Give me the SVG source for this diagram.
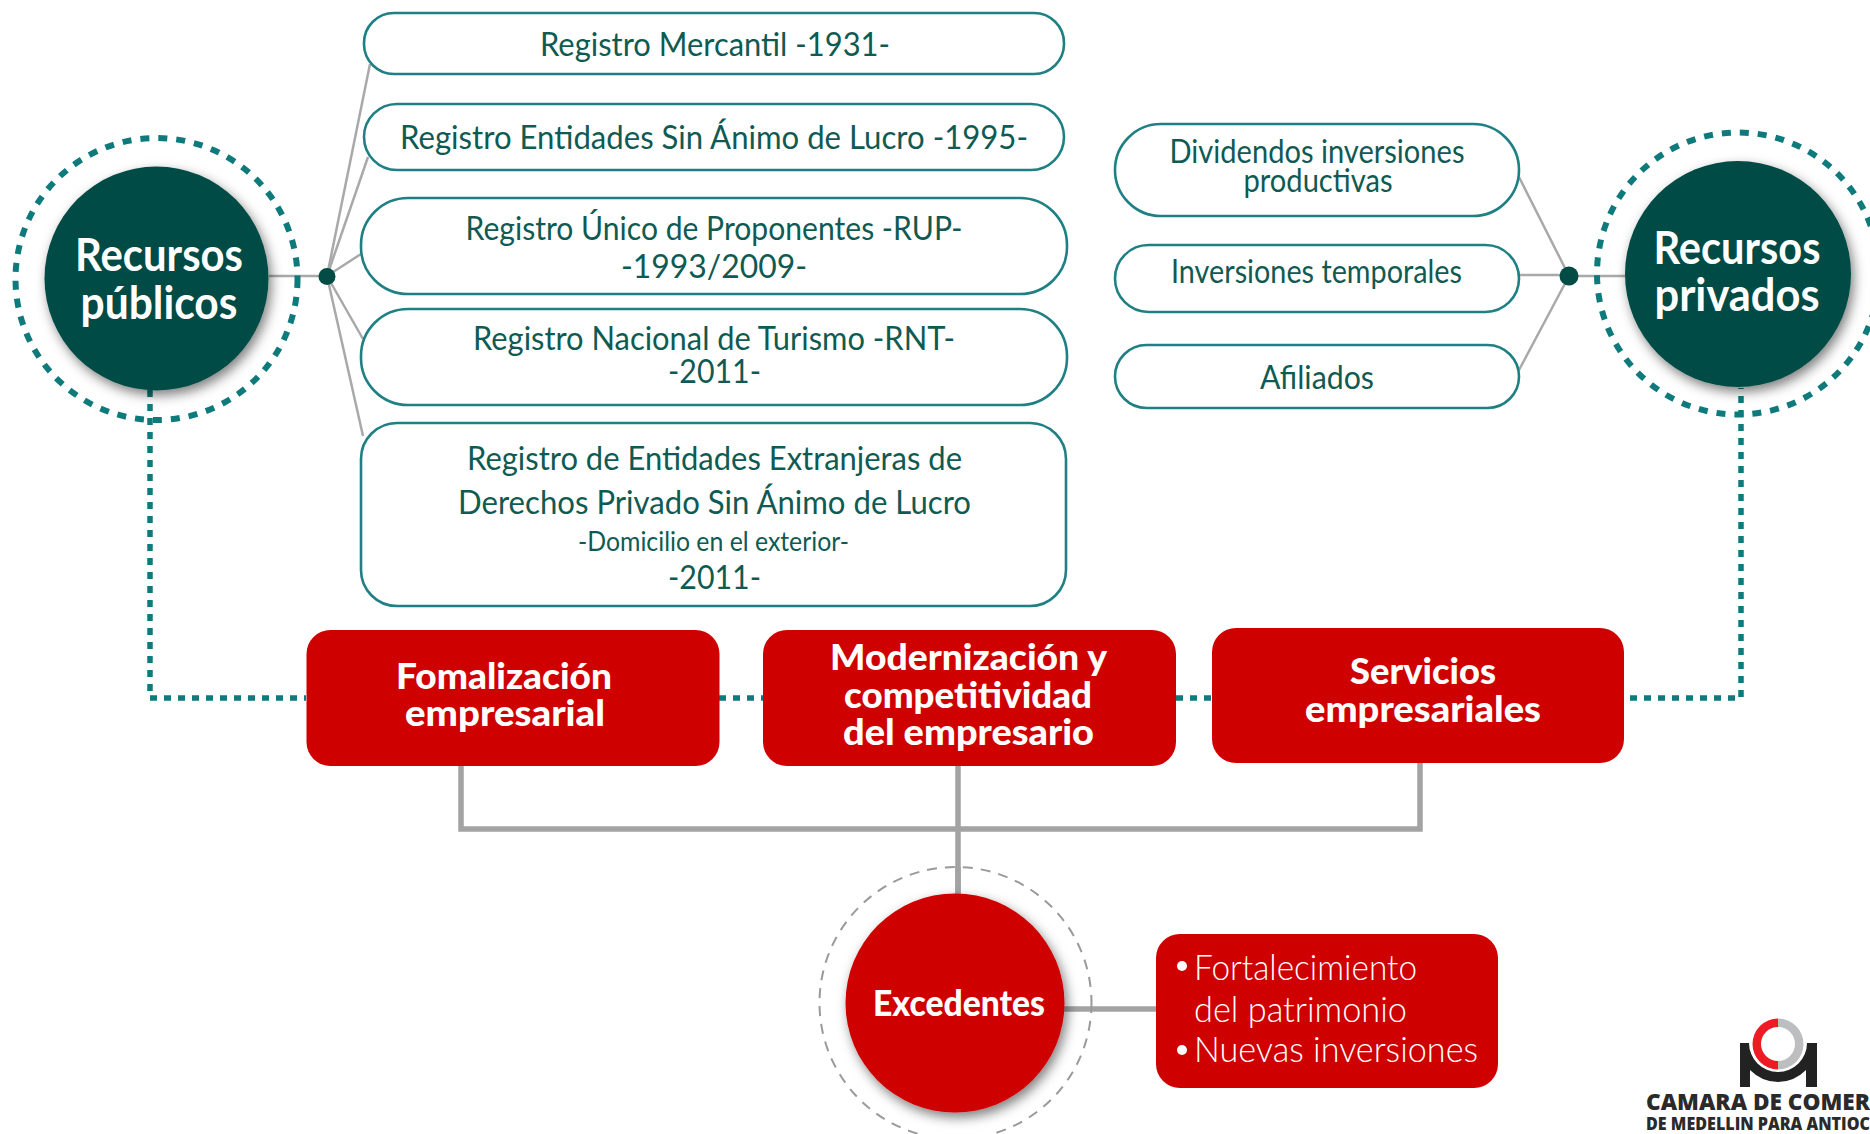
<svg xmlns="http://www.w3.org/2000/svg" width="1870" height="1134" viewBox="0 0 1870 1134">
<defs>
<filter id="shadow" x="-20%" y="-20%" width="140%" height="140%"><feDropShadow dx="3" dy="5" stdDeviation="6" flood-color="#000" flood-opacity="0.5"/></filter>
</defs>
<style>
text{font-family:"Lato","Noto Sans","Liberation Sans",sans-serif;text-anchor:middle}
.pill{fill:#fff;stroke:#1f8084;stroke-width:2.6}
.t{fill:#0f5a52;font-size:32px;font-weight:400}
.s{fill:#0f5a52;font-size:26px;font-weight:400}
.h{fill:#fff;font-size:46px;font-weight:700}
.r{fill:#fff;font-size:36px;font-weight:900}
.e{fill:#fff;font-size:36px;font-weight:300}
.red{fill:#cf0000}
.green{fill:#034c45}
.thin{fill:none;stroke:#a9a9a9;stroke-width:2.5}
.thick{fill:none;stroke:#a3a3a3;stroke-width:5.5}
.dot{fill:none;stroke:#0f7a7c;stroke-width:5.5;stroke-dasharray:7 7}
.ring{fill:none;stroke:#0f7a7c;stroke-width:6;stroke-dasharray:9 9}
.dash{fill:none;stroke:#9a9a9a;stroke-width:2;stroke-dasharray:10 8}
.logo1{fill:#2a2a2a;font-family:"Open Sans","Liberation Sans",sans-serif;font-weight:800;text-anchor:start}
</style>
<rect width="1870" height="1134" fill="#fff"/>
<g id="connectors">
<path class="thin" d="M269 276H327M327 276L370 64M327 276L368 157M327 276L361 254M327 276L363 339M327 276L363 436"/>
<path class="thin" d="M1519 177L1569 276M1519 275H1569M1519 370L1569 276M1569 276H1625"/>
<path class="dot" d="M150 390V698H306M719 698H763M1176 698H1212M1630 698H1741V388"/>
<path class="thick" d="M461 766V829H1420V763M958 766V895M1064 1009H1156"/>
</g>
<g id="node-recursos-publicos">
<circle class="ring" cx="156.500" cy="279" r="141"/>
<circle class="green" cx="156.500" cy="278.500" r="112" filter="url(#shadow)"/>
<text class="h" x="159" y="271" textLength="168" lengthAdjust="spacingAndGlyphs">Recursos</text>
<text class="h" x="159" y="319" textLength="157" lengthAdjust="spacingAndGlyphs">públicos</text>
<circle class="green" cx="327" cy="276.500" r="8.500"/>
</g>
<g id="node-recursos-privados">
<circle class="ring" cx="1738" cy="273.500" r="141"/>
<circle class="green" cx="1738" cy="274" r="113" filter="url(#shadow)"/>
<text class="h" x="1737" y="264" textLength="167" lengthAdjust="spacingAndGlyphs">Recursos</text>
<text class="h" x="1737" y="311" textLength="165" lengthAdjust="spacingAndGlyphs">privados</text>
<circle class="green" cx="1569" cy="276" r="9.500"/>
</g>
<g id="node-mercantil">
<rect class="pill" x="364" y="13" width="700" height="61" rx="30" ry="30"/>
<text class="t" x="715" y="56" textLength="350" lengthAdjust="spacingAndGlyphs">Registro Mercantil -1931-</text>
</g>
<g id="node-entidades">
<rect class="pill" x="364" y="104" width="700" height="66" rx="33" ry="33"/>
<text class="t" x="714" y="149" textLength="628" lengthAdjust="spacingAndGlyphs">Registro Entidades Sin Ánimo de Lucro -1995-</text>
</g>
<g id="node-rup">
<rect class="pill" x="361" y="198" width="706" height="96" rx="47" ry="47"/>
<text class="t" x="714" y="240" textLength="497" lengthAdjust="spacingAndGlyphs">Registro Único de Proponentes -RUP-</text>
<text class="t" x="714" y="278" textLength="186" lengthAdjust="spacingAndGlyphs">-1993/2009-</text>
</g>
<g id="node-rnt">
<rect class="pill" x="361" y="309" width="706" height="96" rx="47" ry="47"/>
<text class="t" x="714" y="350" textLength="482" lengthAdjust="spacingAndGlyphs">Registro Nacional de Turismo -RNT-</text>
<text class="t" x="714.500" y="383" textLength="93" lengthAdjust="spacingAndGlyphs">-2011-</text>
</g>
<g id="node-extranjeras">
<rect class="pill" x="361" y="423" width="705" height="183" rx="36" ry="36"/>
<text class="t" x="714.500" y="470" textLength="495" lengthAdjust="spacingAndGlyphs">Registro de Entidades Extranjeras de</text>
<text class="t" x="714.500" y="514" textLength="513" lengthAdjust="spacingAndGlyphs">Derechos Privado Sin Ánimo de Lucro</text>
<text class="s" x="713.500" y="551" textLength="271" lengthAdjust="spacingAndGlyphs">-Domicilio en el exterior-</text>
<text class="t" x="714.500" y="589" textLength="93" lengthAdjust="spacingAndGlyphs">-2011-</text>
</g>
<g id="node-dividendos">
<rect class="pill" x="1115" y="124" width="404" height="92" rx="46" ry="46"/>
<text class="t" x="1317" y="163" textLength="295" lengthAdjust="spacingAndGlyphs">Dividendos inversiones</text>
<text class="t" x="1318" y="192" textLength="149" lengthAdjust="spacingAndGlyphs">productivas</text>
</g>
<g id="node-inversiones">
<rect class="pill" x="1115" y="245" width="404" height="67" rx="33.500" ry="33.500"/>
<text class="t" x="1316.500" y="283" textLength="291" lengthAdjust="spacingAndGlyphs">Inversiones temporales</text>
</g>
<g id="node-afiliados">
<rect class="pill" x="1115" y="345" width="404" height="63" rx="31.500" ry="31.500"/>
<text class="t" x="1317" y="389" textLength="114" lengthAdjust="spacingAndGlyphs">Afiliados</text>
</g>
<g id="node-formalizacion">
<rect class="red" x="306.500" y="630" width="413" height="136" rx="24" ry="24"/>
<text class="r" x="504" y="689" textLength="216" lengthAdjust="spacingAndGlyphs">Fomalización</text>
<text class="r" x="505" y="726" textLength="200" lengthAdjust="spacingAndGlyphs">empresarial</text>
</g>
<g id="node-modernizacion">
<rect class="red" x="763" y="630" width="413" height="136" rx="24" ry="24"/>
<text class="r" x="968.500" y="670" textLength="277" lengthAdjust="spacingAndGlyphs">Modernización y</text>
<text class="r" x="968" y="708" textLength="248" lengthAdjust="spacingAndGlyphs">competitividad</text>
<text class="r" x="968.500" y="745" textLength="251" lengthAdjust="spacingAndGlyphs">del empresario</text>
</g>
<g id="node-servicios">
<rect class="red" x="1212" y="628" width="412" height="135" rx="24" ry="24"/>
<text class="r" x="1423" y="684" textLength="146" lengthAdjust="spacingAndGlyphs">Servicios</text>
<text class="r" x="1423" y="722" textLength="236" lengthAdjust="spacingAndGlyphs">empresariales</text>
</g>
<g id="node-excedentes">
<circle class="dash" cx="955.500" cy="1003" r="136"/>
<path class="thick" d="M958 867V895"/>
<circle class="red" cx="955" cy="1003" r="109.500" filter="url(#shadow)"/>
<text class="r" x="959" y="1016" font-weight="700" textLength="172" lengthAdjust="spacingAndGlyphs">Excedentes</text>
</g>
<g id="node-destino">
<rect class="red" x="1156" y="934" width="342" height="154" rx="24" ry="24"/>
<circle cx="1182" cy="966" r="5" fill="#fff"/>
<circle cx="1182" cy="1050" r="5" fill="#fff"/>
<text class="e" x="1305.500" y="980" textLength="223" lengthAdjust="spacingAndGlyphs">Fortalecimiento</text>
<text class="e" x="1300.500" y="1022" textLength="213" lengthAdjust="spacingAndGlyphs">del patrimonio</text>
<text class="e" x="1336" y="1062" textLength="284" lengthAdjust="spacingAndGlyphs">Nuevas inversiones</text>
</g>
<g id="logo">
<path fill="#ed1c24" d="M1778 1018.500A25.500 25.500 0 0 0 1778 1069.500V1061A17 17 0 0 1 1778 1027Z"/>
<path fill="#bcbec0" d="M1778 1018.500A25.500 25.500 0 0 1 1778 1069.500V1061A17 17 0 0 0 1778 1027Z"/>
<path fill="#222" d="M1740 1043H1749A29 29 0 0 0 1807 1043H1817V1087H1806V1070Q1794 1082 1778 1082Q1762 1082 1750 1070V1087H1740Z"/>
<text class="logo1" x="1646" y="1110" font-size="23" textLength="224" lengthAdjust="spacingAndGlyphs">CAMARA DE COMER</text>
<text class="logo1" x="1646" y="1130" font-size="17" textLength="224" lengthAdjust="spacingAndGlyphs">DE MEDELLIN PARA ANTIOC</text>
</g>
</svg>
